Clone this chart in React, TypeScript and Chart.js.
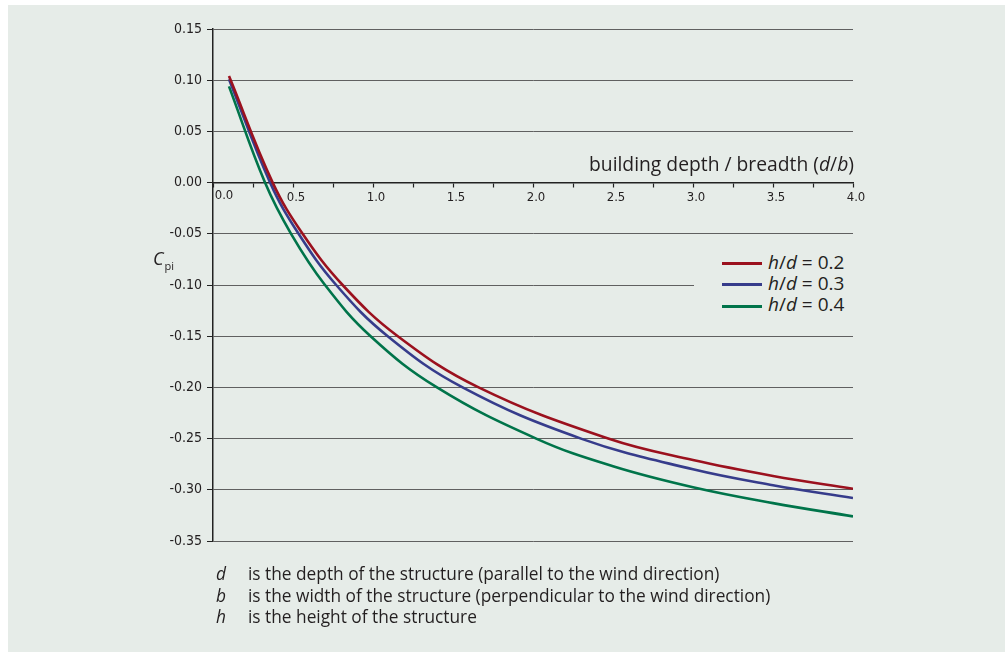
import React, { useEffect, useRef } from "react";
import { Chart, registerables } from "chart.js";

Chart.register(...registerables);

// ---- data ----
const seriesLabels = ["0.2", "0.3", "0.4"];
const seriesColors = ["#9b111e", "#363c8b", "#00744a"];

const red_d = [0.1, 0.373, 0.56, 0.81, 1.155, 1.66, 2.47, 3.0, 3.5, 4.0];
const red_cpi = [0.104, 0.0, -0.05, -0.1, -0.15, -0.2, -0.25, -0.271, -0.2865, -0.299];

const blue_d = [0.1, 0.357, 0.535, 0.77, 1.092, 1.56, 2.3, 3.0, 3.5, 4.0];
const blue_cpi = [0.101, 0.0, -0.05, -0.1, -0.15, -0.2, -0.25, -0.28, -0.2955, -0.308];

const green_d = [0.1, 0.325, 0.488, 0.7, 0.985, 1.4, 2.02, 2.5, 3.0, 3.5, 4.0];
const green_cpi = [0.094, 0.0, -0.05, -0.1, -0.15, -0.2, -0.25, -0.277, -0.2975, -0.313, -0.326];

const xMin = 0;
const xMax = 4;
const xStep = 0.25;
const yMin = -0.35;
const yMax = 0.15;
const yStep = 0.05;
const xFirstLabel = "0.0";

const xTitle = ["building depth / breadth (", "d", "/", "b", ")"];
const notes = [
  ["d", "is the depth of the structure (parallel to the wind direction)"],
  ["b", "is the width of the structure (perpendicular to the wind direction)"],
  ["h", "is the height of the structure"],
];

const BG = "#e6ece8";
const TEXT = "#231f20";
const TICK_FONT = "'Liberation Sans Narrow', 'Arial Narrow', 'DejaVu Sans Condensed', sans-serif";
const TEXT_FONT = "'Open Sans', 'Noto Sans', sans-serif";

const zip = (xs: number[], ys: number[]) => xs.map((x, i) => ({ x, y: ys[i] }));

const zeroLabelPlugin = {
  id: "zeroLabel",
  afterDraw(chart: any) {
    const { ctx, scales } = chart;
    const x = scales.x;
    const y = scales.y;
    ctx.save();
    ctx.font = `13px ${TICK_FONT}`;
    ctx.fillStyle = TEXT;
    ctx.textAlign = "center";
    ctx.textBaseline = "top";
    ctx.fillText(xFirstLabel, x.getPixelForValue(0) + 11, y.getPixelForValue(0) + 7);
    ctx.restore();
  },
};

function fmtY(v: number) {
  if (Math.abs(v) < 1e-9) return "0.00";
  return v.toFixed(2);
}

export default function App() {
  const ref = useRef<HTMLCanvasElement | null>(null);

  useEffect(() => {
    if (!ref.current) return;
    const chart = new Chart(ref.current, {
      type: "line",
      data: {
        datasets: [
          { label: seriesLabels[0], data: zip(red_d, red_cpi), borderColor: seriesColors[0] },
          { label: seriesLabels[1], data: zip(blue_d, blue_cpi), borderColor: seriesColors[1] },
          { label: seriesLabels[2], data: zip(green_d, green_cpi), borderColor: seriesColors[2] },
        ].map((d) => ({
          ...d,
          borderWidth: 2.6,
          pointRadius: 0,
          fill: false,
          tension: 0.4,
        })),
      },
      options: {
        responsive: false,
        animation: false,
        layout: { padding: { left: 0, right: 152, top: 24, bottom: 111 } },
        plugins: { legend: { display: false }, tooltip: { enabled: false } },
        scales: {
          x: {
            type: "linear",
            min: xMin,
            max: xMax,
            position: { y: 0 } as any,
            border: { color: "#222", width: 1.5 },
            grid: { drawOnChartArea: false, drawTicks: true, tickLength: 4, tickColor: "#222", tickWidth: 1.2 },
            ticks: {
              stepSize: xStep,
              autoSkip: false,
              maxRotation: 0,
              padding: 3,
              labelOffset: 3,
              color: TEXT,
              font: { family: TICK_FONT, size: 13 },
              callback: (v: any) => {
                const n = Number(v);
                if (Math.abs(n) < 1e-9) return "";
                return Math.abs(n * 2 - Math.round(n * 2)) < 1e-9 ? n.toFixed(1) : "";
              },
            },
          },
          y: {
            type: "linear",
            min: yMin,
            max: yMax,
            border: { color: "#222", width: 1.5 },
            afterFit: (s: any) => {
              s.width = 205;
            },
            grid: {
              color: (c: any) => (c.tick && Math.abs(c.tick.value) < 1e-9 ? "rgba(0,0,0,0)" : "#606060"),
              lineWidth: 1,
              drawTicks: true,
              tickLength: 6,
              tickColor: "#222",
            },
            ticks: {
              stepSize: yStep,
              padding: 5,
              color: TEXT,
              font: { family: TICK_FONT, size: 14 },
              callback: (v: any) => fmtY(Number(v)),
            },
          },
        },
      },
      plugins: [zeroLabelPlugin],
    });
    return () => chart.destroy();
  }, []);

  const legendTops = [252, 273, 294];
  const lineYs = [263, 284, 306];
  const noteTops = [563, 584.5, 606];

  return (
    <div style={{ position: "absolute", left: 0, top: 0, width: 1005, height: 652, overflow: "hidden" }}>
      <div style={{ position: "absolute", left: 8, top: 5, width: 997, height: 647, background: BG }} />
      <canvas
        ref={ref}
        width={997}
        height={647}
        style={{ position: "absolute", left: 8, top: 5, width: 997, height: 647 }}
      />
      {/* x axis title */}
      <div
        style={{
          position: "absolute",
          right: 1005 - 854,
          top: 153,
          font: `19.3px ${TEXT_FONT}`,
          lineHeight: "21px",
          color: TEXT,
          whiteSpace: "nowrap",
        }}
      >
        {xTitle[0]}
        <i>{xTitle[1]}</i>
        {xTitle[2]}
        <i>{xTitle[3]}</i>
        {xTitle[4]}
      </div>
      {/* y axis label */}
      <div
        style={{
          position: "absolute",
          left: 153,
          top: 248,
          font: `italic 18px ${TEXT_FONT}`,
          lineHeight: "21px",
          color: TEXT,
          whiteSpace: "nowrap",
        }}
      >
        C
        <span style={{ fontStyle: "normal", fontSize: 11, position: "relative", top: 5, marginLeft: 1 }}>pi</span>
      </div>
      {/* legend */}
      <div style={{ position: "absolute", left: 694, top: 248, width: 170, height: 70, background: BG }} />
      {seriesLabels.map((lab, i) => (
        <React.Fragment key={lab}>
          <div
            style={{
              position: "absolute",
              left: 722,
              top: lineYs[i] - 1.5,
              width: 40,
              height: 3,
              background: seriesColors[i],
            }}
          />
          <div
            style={{
              position: "absolute",
              left: 768,
              top: legendTops[i],
              font: `19px ${TEXT_FONT}`,
              lineHeight: "21px",
              color: TEXT,
              whiteSpace: "nowrap",
            }}
          >
            <i>h</i>/<i>d</i> = {lab}
          </div>
        </React.Fragment>
      ))}
      {/* notes */}
      {notes.map((n, i) => (
        <React.Fragment key={n[0]}>
          <div
            style={{
              position: "absolute",
              left: 216,
              top: noteTops[i],
              font: `italic 17.3px ${TEXT_FONT}`,
              lineHeight: "21px",
              color: TEXT,
            }}
          >
            {n[0]}
          </div>
          <div
            style={{
              position: "absolute",
              left: 248,
              top: noteTops[i],
              font: `17.3px ${TEXT_FONT}`,
              lineHeight: "21px",
              color: TEXT,
              whiteSpace: "nowrap",
            }}
          >
            {n[1]}
          </div>
        </React.Fragment>
      ))}
    </div>
  );
}
